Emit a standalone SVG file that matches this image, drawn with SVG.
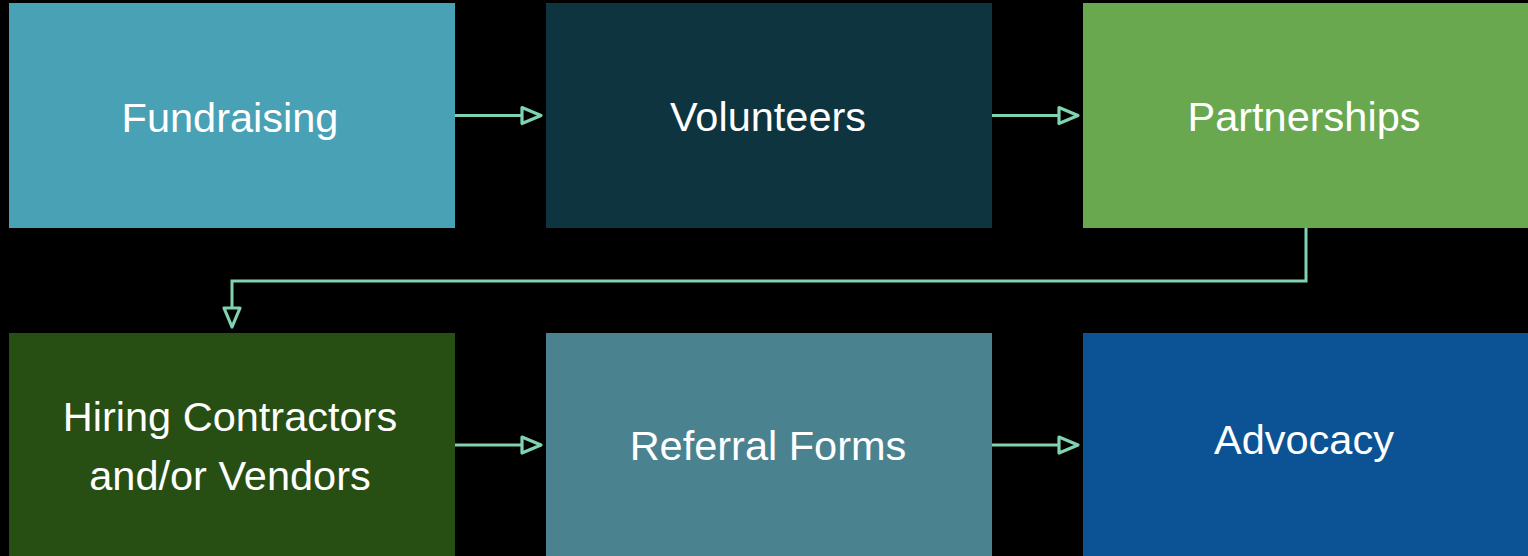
<svg xmlns="http://www.w3.org/2000/svg" width="1528" height="556" viewBox="0 0 1528 556">
<style>
.lbl{font-family:"Liberation Sans",Arial,sans-serif;font-size:41.5px;fill:#ffffff;text-anchor:middle}
.con{fill:none;stroke:#7fd3b0;stroke-width:3}
</style>
<defs>
<marker id="ah" markerWidth="26" markerHeight="22" refX="22" refY="11" orient="auto" markerUnits="userSpaceOnUse" viewBox="0 0 26 22">
<path d="M3,3 L22,11 L3,19 Z" fill="#000000" stroke="#7fd3b0" stroke-width="3.2" stroke-linejoin="round"/>
</marker>
</defs>
<rect width="1528" height="556" fill="#000000"/>
<g id="fundraising"><rect x="9" y="3" width="446" height="225" fill="#48a1b5"/><text class="lbl" x="230" y="132">Fundraising</text></g>
<g id="volunteers"><rect x="546" y="3" width="446" height="225" fill="#0e353f"/><text class="lbl" x="768" y="131">Volunteers</text></g>
<g id="partnerships"><rect x="1083" y="3" width="446" height="225" fill="#69a84f"/><text class="lbl" x="1304" y="131">Partnerships</text></g>
<g id="hiring"><rect x="9" y="333" width="446" height="225" fill="#274e13"/><text class="lbl" x="230" y="431">Hiring Contractors</text><text class="lbl" x="230" y="490">and/or Vendors</text></g>
<g id="referral"><rect x="546" y="333" width="446" height="225" fill="#4a8290"/><text class="lbl" x="768" y="460">Referral Forms</text></g>
<g id="advocacy"><rect x="1083" y="333" width="446" height="225" fill="#0b5394"/><text class="lbl" x="1304" y="454">Advocacy</text></g>
<g id="connectors">
<path class="con" d="M455,115.5 H541" marker-end="url(#ah)"/>
<path class="con" d="M992,115.5 H1078" marker-end="url(#ah)"/>
<path class="con" d="M1306,228 V281 H232 V327" marker-end="url(#ah)"/>
<path class="con" d="M455,445 H541" marker-end="url(#ah)"/>
<path class="con" d="M992,445 H1078" marker-end="url(#ah)"/>
</g>
</svg>
